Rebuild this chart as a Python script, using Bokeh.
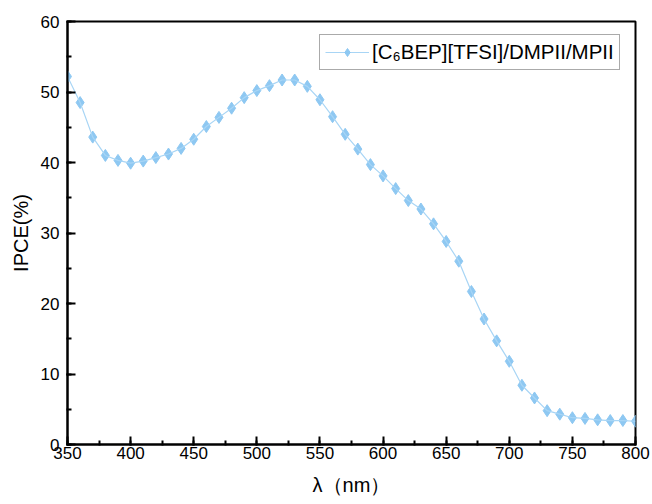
from bokeh.plotting import figure
from bokeh.models import Range1d, SingleIntervalTicker, Legend, LegendItem
from bokeh.embed import file_html
from bokeh.resources import INLINE

wavelength = [350, 360, 370, 380, 390, 400, 410, 420, 430, 440,
              450, 460, 470, 480, 490, 500, 510, 520, 530, 540,
              550, 560, 570, 580, 590, 600, 610, 620, 630, 640,
              650, 660, 670, 680, 690, 700, 710, 720, 730, 740,
              750, 760, 770, 780, 790, 800]
ipce = [52.2, 48.5, 43.6, 41.0, 40.3, 39.9, 40.2, 40.7, 41.2, 42.0,
        43.3, 45.1, 46.4, 47.7, 49.2, 50.2, 50.9, 51.7, 51.7, 50.8,
        48.9, 46.5, 44.0, 41.9, 39.7, 38.1, 36.3, 34.6, 33.4, 31.3,
        28.8, 26.0, 21.7, 17.8, 14.7, 11.8, 8.4, 6.6, 4.8, 4.3,
        3.8, 3.7, 3.5, 3.4, 3.4, 3.3]
series_label = "[C\u2086BEP][TFSI]/DMPII/MPII"
x_label = "\u03bb\uff08nm\uff09"
y_label = "IPCE(%)"

FONT = "Liberation Sans"

p = figure(width=652, height=504, output_backend="svg", toolbar_location=None,
           x_range=Range1d(350, 800), y_range=Range1d(0, 60),
           min_border_left=67, min_border_right=17, min_border_top=21,
           min_border_bottom=60)
p.background_fill_color = "white"
p.border_fill_color = "white"
p.grid.visible = False
p.outline_line_color = "black"
p.outline_line_width = 2
p.outline_line_alpha = 1.0

p.xaxis.ticker = SingleIntervalTicker(interval=50, num_minor_ticks=2)
p.yaxis.ticker = SingleIntervalTicker(interval=10, num_minor_ticks=2)
for ax in (p.xaxis[0], p.yaxis[0]):
    ax.axis_line_color = "black"
    ax.axis_line_width = 2
    ax.major_tick_in = 8
    ax.major_tick_out = 1
    ax.minor_tick_in = 4
    ax.minor_tick_out = 1
    ax.major_tick_line_color = "black"
    ax.minor_tick_line_color = "black"
    ax.major_tick_line_width = 2
    ax.minor_tick_line_width = 2
    ax.major_label_text_font = FONT
    ax.major_label_text_font_size = "17px"
    ax.major_label_text_color = "black"
    ax.axis_label_text_font = FONT
    ax.axis_label_text_font_size = "20px"
    ax.axis_label_text_font_style = "normal"
    ax.axis_label_text_color = "black"

p.xaxis.axis_label = x_label
p.yaxis.axis_label = y_label
p.xaxis.major_label_standoff = 1
p.xaxis.axis_label_standoff = 12
p.yaxis.major_label_standoff = 7
p.yaxis.axis_label_standoff = 6

marker_r = p.scatter(wavelength, ipce, marker="diamond", size=12,
                     fill_color="#8ec8f2", line_color="#8ec8f2", line_width=1)
line_r = p.line(wavelength, ipce, line_color="#a8d5f5", line_width=1.2)

legend = Legend(items=[LegendItem(label=series_label, renderers=[line_r, marker_r])],
                location=(252, 374))
legend.label_text_font = FONT
legend.label_text_font_size = "20.5px"
legend.label_text_color = "black"
legend.label_height = 20
legend.glyph_height = 20
legend.glyph_width = 44
legend.label_standoff = 3
legend.padding = 5
legend.spacing = 0
legend.margin = 0
legend.border_line_color = "#555555"
legend.border_line_width = 1.5
legend.background_fill_color = "white"
p.add_layout(legend)

open("out.html", "w").write(file_html(p, INLINE))
